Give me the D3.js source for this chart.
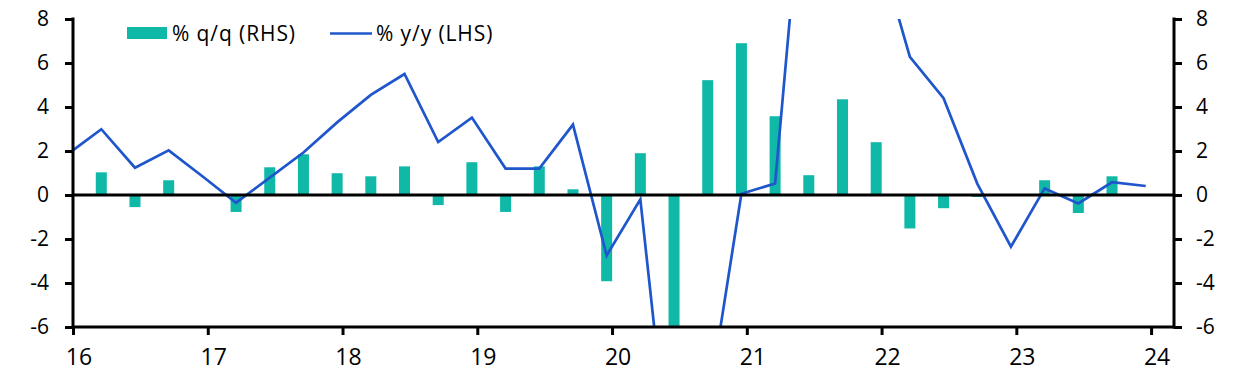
<!DOCTYPE html>
<html>
<head>
<meta charset="utf-8">
<script src="https://cdnjs.cloudflare.com/ajax/libs/d3/7.8.5/d3.min.js"></script>
<style>
  html, body { margin: 0; padding: 0; background: #fff; }
  svg { display: block; }
  text { font-family: "Open Sans", "Noto Sans", sans-serif; fill: #000; }
</style>
</head>
<body>
<svg id="chart" width="1241" height="384"></svg>
<script>
// Quarters from 2015Q4 to 2023Q4
const quarters = [
  "2015Q4",
  "2016Q1","2016Q2","2016Q3","2016Q4",
  "2017Q1","2017Q2","2017Q3","2017Q4",
  "2018Q1","2018Q2","2018Q3","2018Q4",
  "2019Q1","2019Q2","2019Q3","2019Q4",
  "2020Q1","2020Q2","2020Q3","2020Q4",
  "2021Q1","2021Q2","2021Q3","2021Q4",
  "2022Q1","2022Q2","2022Q3","2022Q4",
  "2023Q1","2023Q2","2023Q3","2023Q4"
];
// % q/q (RHS) – bars
const qoq = [
  null,
  1.03, -0.55, 0.67, 0.0,
  -0.77, 1.26, 1.85, 0.99,
  0.85, 1.3, -0.46, 1.49,
  -0.77, 1.3, 0.26, -3.92,
  1.9, -11.0, 5.22, 6.9,
  3.58, 0.9, 4.35, 2.4,
  -1.52, -0.6, -0.09, 0.0,
  0.67, -0.82, 0.85, null
];
// % y/y (LHS) – line
const yoy = [
  1.85,
  2.99, 1.24, 2.03, 0.85,
  -0.35, 0.79, 1.93, 3.3,
  4.55, 5.5, 2.41, 3.52,
  1.2, 1.2, 3.2, -2.75,
  -0.2, -14.3, -9.7, 0.06,
  0.52, 17.7, 14.5, 11.6,
  6.28, 4.4, 0.52, -2.35,
  0.3, -0.38, 0.58, 0.41
];
const yTicks = [-6, -4, -2, 0, 2, 4, 6, 8];
const xTicks = [16, 17, 18, 19, 20, 21, 22, 23, 24];
const xTickLabels = ["16","17","18","19","20","21","22","23","24"];
const legendLabels = ["% q/q (RHS)", "% y/y (LHS)"];

const barColor = "#10b8a8";
const lineColor = "#1f56cc";

const L = 73, R = 1174, T = 19, B = 327;
const svg = d3.select("#chart");

const x = d3.scaleLinear().domain([16, 24.17]).range([L, R]);
const yL = d3.scaleLinear().domain([-6, 8]).range([B, T]);
const yR = d3.scaleLinear().domain([-6, 8]).range([B, T]);

// position of each quarter's observation (fraction of year)
const pos = q => {
  const yr = +q.slice(2, 4);
  const qi = +q.slice(5);
  return yr + (qi - 1) * 0.25 + 0.21;
};

svg.append("defs").append("clipPath").attr("id", "plot")
  .append("rect").attr("x", L).attr("y", T).attr("width", R - L).attr("height", B - T);

const plot = svg.append("g").attr("clip-path", "url(#plot)");

const bw = 11;
plot.selectAll("rect.bar")
  .data(quarters.map((q, i) => ({ q, v: qoq[i] })).filter(d => d.v !== null))
  .enter().append("rect")
  .attr("class", "bar")
  .attr("x", d => x(pos(d.q)) - bw / 2)
  .attr("width", bw)
  .attr("y", d => yR(Math.max(0, d.v)))
  .attr("height", d => Math.abs(yR(d.v) - yR(0)))
  .attr("fill", barColor);

// zero line
svg.append("line")
  .attr("x1", L).attr("x2", R)
  .attr("y1", yL(0)).attr("y2", yL(0))
  .attr("stroke", "#000").attr("stroke-width", 3);

const line = d3.line()
  .x(d => x(pos(d.q)))
  .y(d => yL(d.v));
plot.append("path")
  .datum(quarters.map((q, i) => ({ q, v: yoy[i] })))
  .attr("d", line)
  .attr("fill", "none")
  .attr("stroke", lineColor)
  .attr("stroke-width", 2.7)
  .attr("stroke-linejoin", "miter");

const fmt = d => String(d); // plain hyphen minus

// axes
const leftAxis = d3.axisLeft(yL).tickValues(yTicks).tickSize(8).tickPadding(16).tickFormat(fmt);
const gl = svg.append("g").attr("transform", `translate(${L},0)`).call(leftAxis);
const rightAxis = d3.axisRight(yR).tickValues(yTicks).tickSize(8).tickPadding(14).tickFormat(fmt);
const gr = svg.append("g").attr("transform", `translate(${R},0)`).call(rightAxis);
const bottomAxis = d3.axisBottom(x).tickValues(xTicks).tickSize(8).tickPadding(14)
  .tickFormat((d, i) => xTickLabels[i]);
const gb = svg.append("g").attr("transform", `translate(0,${B})`).call(bottomAxis);

[gl, gr, gb].forEach(g => {
  g.select(".domain").remove();
  g.selectAll(".tick line").attr("stroke", "#000").attr("stroke-width", 3);
  g.selectAll(".tick text").attr("fill", "#000").style("font-family", '"Open Sans", sans-serif');
});
gl.selectAll(".tick text").style("font-size", "21px");
gr.selectAll(".tick text").style("font-size", "21px");
gb.selectAll(".tick text").style("font-size", "23px").attr("dx", 5.5);

// axis lines
svg.append("line").attr("x1", L).attr("x2", L).attr("y1", T - 1.5).attr("y2", B + 1.5)
  .attr("stroke", "#000").attr("stroke-width", 3);
svg.append("line").attr("x1", R).attr("x2", R).attr("y1", T - 1.5).attr("y2", B + 1.5)
  .attr("stroke", "#000").attr("stroke-width", 3);
svg.append("line").attr("x1", L).attr("x2", R).attr("y1", B).attr("y2", B)
  .attr("stroke", "#000").attr("stroke-width", 3);

// legend
const lg = svg.append("g");
lg.append("rect").attr("x", 127).attr("y", 27).attr("width", 40).attr("height", 12).attr("fill", barColor);
lg.append("text").attr("x", 172).attr("y", 40.5).style("font-size", "21px").style("letter-spacing", "0.9px").text(legendLabels[0]);
lg.append("line").attr("x1", 330).attr("x2", 372).attr("y1", 33.5).attr("y2", 33.5)
  .attr("stroke", lineColor).attr("stroke-width", 2.7);
lg.append("text").attr("x", 376).attr("y", 40.5).style("font-size", "21px").style("letter-spacing", "0.9px").text(legendLabels[1]);
</script>
</body>
</html>
